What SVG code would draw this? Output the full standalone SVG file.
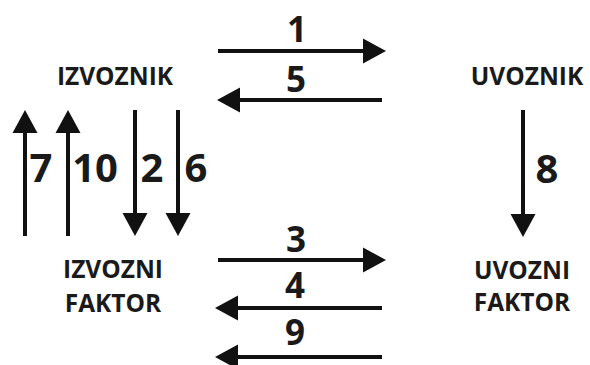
<svg xmlns="http://www.w3.org/2000/svg" width="590" height="365" viewBox="0 0 590 365">
  <style>
    .lbl { font-family: "Open Sans", "Liberation Sans", sans-serif; font-weight: bold; font-size: 24.5px; fill: #1a1a1a; text-anchor: middle; }
    .num { font-family: "Open Sans", "Liberation Sans", sans-serif; font-weight: bold; font-size: 35px; fill: #1a1a1a; text-anchor: middle; }
    .vnum { font-size: 40px; }
    .ln { stroke: #111; stroke-width: 4; fill: none; }
    .hd { fill: #111; }
  </style>
  <rect width="590" height="365" fill="#fff"/>

  <g id="izvoznik"><text class="lbl" x="115" y="85">IZVOZNIK</text></g>
  <g id="uvoznik"><text class="lbl" x="527" y="85">UVOZNIK</text></g>
  <g id="izvozni-faktor"><text class="lbl" x="113" y="278">IZVOZNI</text><text class="lbl" x="113" y="312">FAKTOR</text></g>
  <g id="uvozni-faktor"><text class="lbl" x="522" y="279">UVOZNI</text><text class="lbl" x="522" y="311">FAKTOR</text></g>

  <g id="connectors">
    <!-- 1: izvoznik -> uvoznik -->
    <line class="ln" x1="218" y1="51" x2="366" y2="51"/><polygon class="hd" points="386,51 363,38.5 363,63.5"/>
    <text class="num" x="297" y="42">1</text>
    <!-- 5: uvoznik -> izvoznik -->
    <line class="ln" x1="382" y1="100" x2="238" y2="100"/><polygon class="hd" points="217,100 240,87.5 240,112.5"/>
    <text class="num" x="296" y="92">5</text>
    <!-- 3: izvozni faktor -> uvozni faktor -->
    <line class="ln" x1="218" y1="260" x2="366" y2="260"/><polygon class="hd" points="386,260 363,247.5 363,272.5"/>
    <text class="num" x="296" y="252">3</text>
    <!-- 4 and 9: back to izvozni faktor -->
    <line class="ln" x1="382" y1="308" x2="236" y2="308"/><polygon class="hd" points="215,308 238,295.5 238,320.5"/>
    <text class="num" x="295" y="298">4</text>
    <line class="ln" x1="382" y1="357" x2="236" y2="357"/><polygon class="hd" points="215,357 238,344.5 238,369.5"/>
    <text class="num" x="295" y="345">9</text>
    <!-- vertical links between izvoznik and izvozni faktor -->
    <line class="ln" x1="25" y1="236" x2="25" y2="130"/><polygon class="hd" points="25,110 12.5,133 37.5,133"/>
    <text class="num vnum" x="41" y="182">7</text>
    <line class="ln" x1="68" y1="236" x2="68" y2="130"/><polygon class="hd" points="68,110 55.5,133 80.5,133"/>
    <text class="num vnum" x="95" y="182">10</text>
    <line class="ln" x1="135" y1="110" x2="135" y2="216"/><polygon class="hd" points="135,236 122.5,213 147.5,213"/>
    <text class="num vnum" x="152" y="182">2</text>
    <line class="ln" x1="178" y1="110" x2="178" y2="216"/><polygon class="hd" points="178,236 165.5,213 190.5,213"/>
    <text class="num vnum" x="196" y="182">6</text>
    <!-- 8: uvoznik -> uvozni faktor -->
    <line class="ln" x1="523" y1="110" x2="523" y2="217"/><polygon class="hd" points="523,237 510.5,214 535.5,214"/>
    <text class="num vnum" x="547" y="183">8</text>
  </g>
</svg>
